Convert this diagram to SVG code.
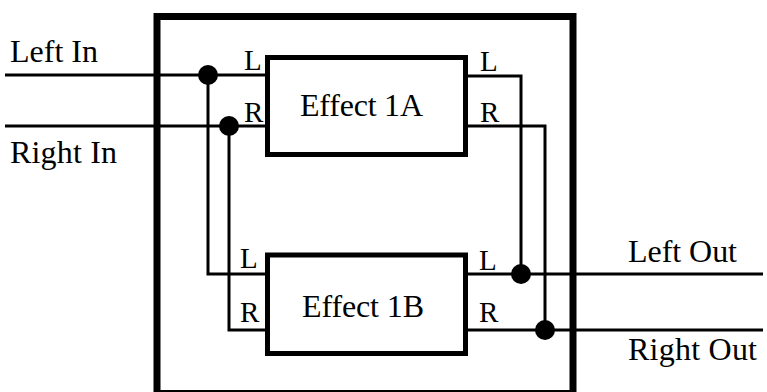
<svg xmlns="http://www.w3.org/2000/svg" width="767" height="392" viewBox="0 0 767 392">
<style>
.wire{fill:none;stroke:#000;stroke-width:3}
.box{fill:#fff;stroke:#000;stroke-width:5}
.frame{fill:none;stroke:#000;stroke-width:7}
.dot{fill:#000}
text{font-family:"Liberation Serif","Times New Roman",serif;fill:#000}
.lbl{font-size:32px}
.port{font-size:29px}
</style>
<rect width="767" height="392" fill="#fff"/>
<g id="frame"><rect class="frame" x="157" y="16.5" width="416" height="377"/></g>
<g id="connectors">
<path class="wire" d="M5 75H267M208 75V274H267"/>
<path class="wire" d="M5 126H267M229 126V330H267"/>
<path class="wire" d="M465 76H521V274"/>
<path class="wire" d="M465 126H545V330"/>
<path class="wire" d="M465 274H763"/>
<path class="wire" d="M465 330H763"/>
<circle class="dot" cx="208" cy="75" r="10"/>
<circle class="dot" cx="229" cy="126" r="10"/>
<circle class="dot" cx="521" cy="274" r="10"/>
<circle class="dot" cx="545" cy="330" r="10"/>
</g>
<g id="effect1a">
<rect class="box" x="267.5" y="57.5" width="198" height="97"/>
<text class="lbl" x="361.5" y="116" text-anchor="middle" textLength="123">Effect 1A</text>
<text class="port" x="244" y="70">L</text>
<text class="port" x="244" y="122">R</text>
<text class="port" x="480" y="71">L</text>
<text class="port" x="480" y="122">R</text>
</g>
<g id="effect1b">
<rect class="box" x="267.5" y="255" width="198" height="98.5"/>
<text class="lbl" x="363" y="317" text-anchor="middle" textLength="122">Effect 1B</text>
<text class="port" x="240" y="268">L</text>
<text class="port" x="240" y="322">R</text>
<text class="port" x="479" y="270">L</text>
<text class="port" x="479" y="322">R</text>
</g>
<g id="left-in"><text class="lbl" x="10" y="62" textLength="88">Left In</text></g>
<g id="right-in"><text class="lbl" x="10" y="163" textLength="107">Right In</text></g>
<g id="left-out"><text class="lbl" x="628" y="262" textLength="109">Left Out</text></g>
<g id="right-out"><text class="lbl" x="628" y="360" textLength="129">Right Out</text></g>
</svg>
